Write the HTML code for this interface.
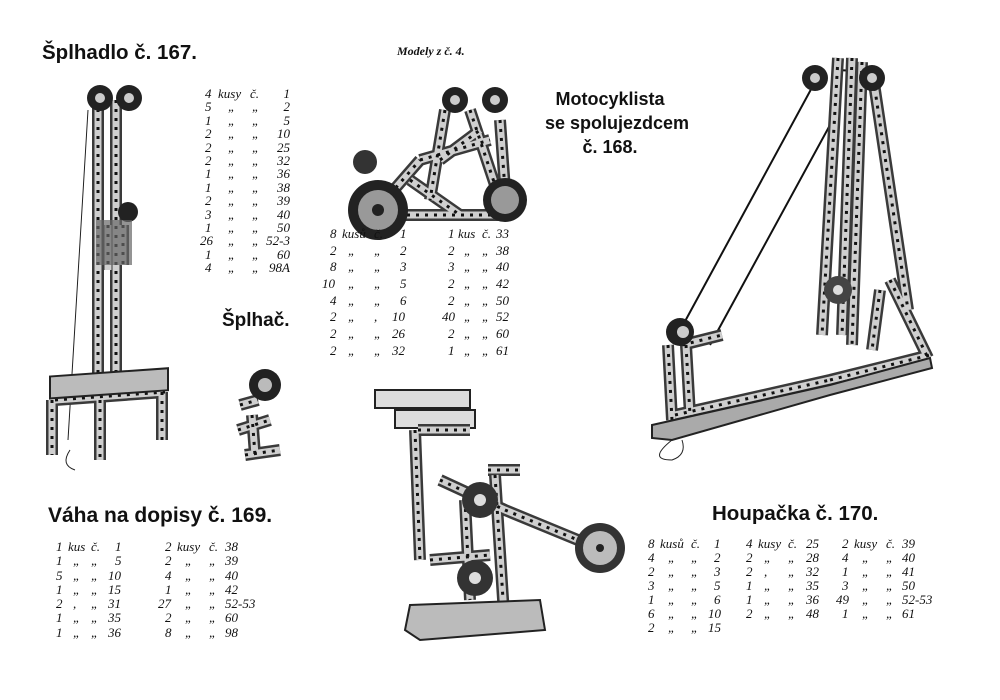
<!DOCTYPE html>
<html><head><meta charset="utf-8"><style>
html,body{margin:0;padding:0;background:#fff;}
#p{position:relative;width:1000px;height:700px;overflow:hidden;background:#fff;}
.t{position:absolute;font-family:"Liberation Sans",sans-serif;font-weight:bold;color:#111;white-space:nowrap;}
.l{position:absolute;font-family:"Liberation Serif",serif;font-style:italic;color:#111;font-size:13px;}
.l div{height:13.4px;line-height:13.4px;white-space:nowrap;position:relative;}
.l span{position:absolute;top:0;}
svg{position:absolute;left:0;top:0;}
.a{fill:none;stroke:#3a3a3a;stroke-width:12;stroke-linecap:butt}
.b{fill:none;stroke:#cfcfcf;stroke-width:7}
.c{fill:none;stroke:#111;stroke-width:3;stroke-dasharray:3 6}
</style></head><body><div id="p">
<svg width="1000" height="700" viewBox="0 0 1000 700">
<defs>
<path id="s1" d="M98 100 L98 380 M116 100 L116 380 M55 400 L165 392 M52 400 L52 455 M100 400 L100 460 M162 392 L162 440 M108 225 L108 270 M123 225 L123 265"/>
<path id="s2" d="M838 58 L822 335 M852 58 L842 335 M862 62 L852 345 M872 70 L908 310 M890 280 L928 358 M880 290 L872 350 M668 345 L672 420 M686 345 L690 415 M682 345 L722 335 M675 415 L830 380 M830 380 L930 355"/>
<path id="s3" d="M372 215 L420 160 M420 160 L490 140 M410 180 L460 215 M380 215 L500 215 M470 110 L500 200 M445 110 L430 200 M500 120 L505 190 M440 160 L480 130"/>
<path id="s4" d="M415 430 L420 560 M418 430 L470 430 M440 480 L505 510 M505 510 L590 545 M430 560 L490 555 M495 475 L505 630 M488 470 L520 470 M465 500 L470 600"/>
<path id="s5" d="M240 405 L258 400 M238 430 L270 420 M245 455 L280 450 M252 415 L255 455"/>
</defs>
<line x1="88" y1="110" x2="68" y2="440" stroke="#222" stroke-width="1"/>
<use href="#s1" class="a"/><use href="#s1" class="b"/><use href="#s1" class="c"/>
<rect x="50" y="380" width="118" height="22" fill="#bbb" stroke="#222" stroke-width="2" transform="skewY(-4)"/>
<circle cx="100" cy="98" r="13" fill="#222"/><circle cx="100" cy="98" r="5" fill="#ccc"/>
<circle cx="129" cy="98" r="13" fill="#222"/><circle cx="129" cy="98" r="5" fill="#ccc"/>
<circle cx="128" cy="212" r="10" fill="#222"/>
<rect x="96" y="220" width="36" height="45" fill="#666" opacity=".7"/>
<path d="M70 450 q-10 15 5 20" stroke="#222" fill="none"/>
<line x1="815" y1="82" x2="683" y2="325" stroke="#111" stroke-width="2"/>
<line x1="830" y1="125" x2="710" y2="345" stroke="#111" stroke-width="2"/>
<line x1="838" y1="70" x2="872" y2="72" stroke="#111" stroke-width="2"/>
<use href="#s2" class="a"/><use href="#s2" class="b"/><use href="#s2" class="c"/>
<polygon points="652,425 830,385 930,358 932,368 830,395 672,440 652,438" fill="#aaa" stroke="#222" stroke-width="2"/>
<circle cx="815" cy="78" r="13" fill="#222"/><circle cx="815" cy="78" r="5" fill="#ccc"/>
<circle cx="872" cy="78" r="13" fill="#222"/><circle cx="872" cy="78" r="5" fill="#ccc"/>
<circle cx="680" cy="332" r="14" fill="#222"/><circle cx="683" cy="332" r="6" fill="#ccc"/>
<circle cx="838" cy="290" r="14" fill="#444"/><circle cx="838" cy="290" r="5" fill="#ddd"/>
<path d="M672 440 q-25 20 0 20 q15 -5 10 -20" stroke="#222" fill="none"/>
<use href="#s3" class="a"/><use href="#s3" class="b"/><use href="#s3" class="c"/>
<circle cx="378" cy="210" r="30" fill="#222"/><circle cx="378" cy="210" r="20" fill="#999"/><circle cx="378" cy="210" r="6" fill="#222"/>
<circle cx="505" cy="200" r="22" fill="#222"/><circle cx="505" cy="200" r="14" fill="#999"/>
<circle cx="455" cy="100" r="13" fill="#222"/><circle cx="455" cy="100" r="5" fill="#ccc"/>
<circle cx="495" cy="100" r="13" fill="#222"/><circle cx="495" cy="100" r="5" fill="#ccc"/>
<circle cx="365" cy="162" r="12" fill="#333"/>
<use href="#s5" class="a"/><use href="#s5" class="b"/><use href="#s5" class="c"/>
<circle cx="265" cy="385" r="16" fill="#222"/><circle cx="265" cy="385" r="7" fill="#bbb"/>
<polygon points="375,390 470,390 470,408 375,408" fill="#ddd" stroke="#222" stroke-width="2"/>
<polygon points="395,410 475,410 475,428 395,428" fill="#ddd" stroke="#222" stroke-width="2"/>
<use href="#s4" class="a"/><use href="#s4" class="b"/><use href="#s4" class="c"/>
<circle cx="480" cy="500" r="18" fill="#333"/><circle cx="480" cy="500" r="6" fill="#ddd"/>
<circle cx="475" cy="578" r="18" fill="#333"/><circle cx="475" cy="578" r="6" fill="#ddd"/>
<circle cx="600" cy="548" r="25" fill="#333"/><circle cx="600" cy="548" r="17" fill="#bbb"/><circle cx="600" cy="548" r="4" fill="#222"/>
<polygon points="410,605 540,600 545,630 420,640 405,630" fill="#bbb" stroke="#222" stroke-width="2"/>
</svg>

<div class="t" style="left:42px;top:41px;font-size:20.5px;">Šplhadlo č. 167.</div>
<div class="l" style="left:397px;top:44px;font-size:12px;font-weight:bold;">Modely z č. 4.</div>
<div class="t" style="left:545px;top:87px;width:130px;text-align:center;font-size:18px;line-height:24px;">Motocyklista<br>se spolujezdcem<br>č. 168.</div>
<div class="t" style="left:222px;top:310px;font-size:19px;">Šplhač.</div>
<div class="t" style="left:48px;top:504px;font-size:21px;">Váha na dopisy č. 169.</div>
<div class="t" style="left:712px;top:502px;font-size:20.5px;">Houpačka č. 170.</div>

<div class="l" style="left:200px;top:87px;width:95px;">
<div><span style="left:5px">4</span><span style="left:18px">kusy</span><span style="left:50px">č.</span><span style="right:5px">1</span></div>
<div><span style="left:5px">5</span><span style="left:28px">„</span><span style="left:52px">„</span><span style="right:5px">2</span></div>
<div><span style="left:5px">1</span><span style="left:28px">„</span><span style="left:52px">„</span><span style="right:5px">5</span></div>
<div><span style="left:5px">2</span><span style="left:28px">„</span><span style="left:52px">„</span><span style="right:5px">10</span></div>
<div><span style="left:5px">2</span><span style="left:28px">„</span><span style="left:52px">„</span><span style="right:5px">25</span></div>
<div><span style="left:5px">2</span><span style="left:28px">„</span><span style="left:52px">„</span><span style="right:5px">32</span></div>
<div><span style="left:5px">1</span><span style="left:28px">„</span><span style="left:52px">„</span><span style="right:5px">36</span></div>
<div><span style="left:5px">1</span><span style="left:28px">„</span><span style="left:52px">„</span><span style="right:5px">38</span></div>
<div><span style="left:5px">2</span><span style="left:28px">„</span><span style="left:52px">„</span><span style="right:5px">39</span></div>
<div><span style="left:5px">3</span><span style="left:28px">„</span><span style="left:52px">„</span><span style="right:5px">40</span></div>
<div><span style="left:5px">1</span><span style="left:28px">„</span><span style="left:52px">„</span><span style="right:5px">50</span></div>
<div><span style="left:0px">26</span><span style="left:28px">„</span><span style="left:52px">„</span><span style="right:5px">52-3</span></div>
<div><span style="left:5px">1</span><span style="left:28px">„</span><span style="left:52px">„</span><span style="right:5px">60</span></div>
<div><span style="left:5px">4</span><span style="left:28px">„</span><span style="left:52px">„</span><span style="right:5px">98A</span></div>
</div>

<div class="l" style="left:322px;top:227px;width:200px;">
<div style="height:16.7px"><span style="left:8px">8</span><span style="left:20px">kusů</span><span style="left:52px">č.</span><span style="left:78px">1</span><span style="left:126px">1</span><span style="left:136px">kus</span><span style="left:160px">č.</span><span style="left:174px">33</span></div>
<div style="height:16.7px"><span style="left:8px">2</span><span style="left:26px">„</span><span style="left:52px">„</span><span style="left:78px">2</span><span style="left:126px">2</span><span style="left:142px">„</span><span style="left:160px">„</span><span style="left:174px">38</span></div>
<div style="height:16.7px"><span style="left:8px">8</span><span style="left:26px">„</span><span style="left:52px">„</span><span style="left:78px">3</span><span style="left:126px">3</span><span style="left:142px">„</span><span style="left:160px">„</span><span style="left:174px">40</span></div>
<div style="height:16.7px"><span style="left:0px">10</span><span style="left:26px">„</span><span style="left:52px">„</span><span style="left:78px">5</span><span style="left:126px">2</span><span style="left:142px">„</span><span style="left:160px">„</span><span style="left:174px">42</span></div>
<div style="height:16.7px"><span style="left:8px">4</span><span style="left:26px">„</span><span style="left:52px">„</span><span style="left:78px">6</span><span style="left:126px">2</span><span style="left:142px">„</span><span style="left:160px">„</span><span style="left:174px">50</span></div>
<div style="height:16.7px"><span style="left:8px">2</span><span style="left:26px">„</span><span style="left:52px">,</span><span style="left:70px">10</span><span style="left:120px">40</span><span style="left:142px">„</span><span style="left:160px">„</span><span style="left:174px">52</span></div>
<div style="height:16.7px"><span style="left:8px">2</span><span style="left:26px">„</span><span style="left:52px">„</span><span style="left:70px">26</span><span style="left:126px">2</span><span style="left:142px">„</span><span style="left:160px">„</span><span style="left:174px">60</span></div>
<div style="height:16.7px"><span style="left:8px">2</span><span style="left:26px">„</span><span style="left:52px">„</span><span style="left:70px">32</span><span style="left:126px">1</span><span style="left:142px">„</span><span style="left:160px">„</span><span style="left:174px">61</span></div>
</div>

<div class="l" style="left:53px;top:540px;width:210px;">
<div style="height:14.3px"><span style="left:3px">1</span><span style="left:15px">kus</span><span style="left:38px">č.</span><span style="left:62px">1</span><span style="left:112px">2</span><span style="left:124px">kusy</span><span style="left:156px">č.</span><span style="left:172px">38</span></div>
<div style="height:14.3px"><span style="left:3px">1</span><span style="left:20px">„</span><span style="left:38px">„</span><span style="left:62px">5</span><span style="left:112px">2</span><span style="left:132px">„</span><span style="left:156px">„</span><span style="left:172px">39</span></div>
<div style="height:14.3px"><span style="left:3px">5</span><span style="left:20px">„</span><span style="left:38px">„</span><span style="left:55px">10</span><span style="left:112px">4</span><span style="left:132px">„</span><span style="left:156px">„</span><span style="left:172px">40</span></div>
<div style="height:14.3px"><span style="left:3px">1</span><span style="left:20px">„</span><span style="left:38px">„</span><span style="left:55px">15</span><span style="left:112px">1</span><span style="left:132px">„</span><span style="left:156px">„</span><span style="left:172px">42</span></div>
<div style="height:14.3px"><span style="left:3px">2</span><span style="left:20px">,</span><span style="left:38px">„</span><span style="left:55px">31</span><span style="left:105px">27</span><span style="left:132px">„</span><span style="left:156px">„</span><span style="left:172px">52-53</span></div>
<div style="height:14.3px"><span style="left:3px">1</span><span style="left:20px">„</span><span style="left:38px">„</span><span style="left:55px">35</span><span style="left:112px">2</span><span style="left:132px">„</span><span style="left:156px">„</span><span style="left:172px">60</span></div>
<div style="height:14.3px"><span style="left:3px">1</span><span style="left:20px">„</span><span style="left:38px">„</span><span style="left:55px">36</span><span style="left:112px">8</span><span style="left:132px">„</span><span style="left:156px">„</span><span style="left:172px">98</span></div>
</div>

<div class="l" style="left:646px;top:537px;width:290px;">
<div style="height:14px"><span style="left:2px">8</span><span style="left:14px">kusů</span><span style="left:45px">č.</span><span style="left:68px">1</span><span style="left:100px">4</span><span style="left:112px">kusy</span><span style="left:142px">č.</span><span style="left:160px">25</span><span style="left:196px">2</span><span style="left:208px">kusy</span><span style="left:240px">č.</span><span style="left:256px">39</span></div>
<div style="height:14px"><span style="left:2px">4</span><span style="left:22px">„</span><span style="left:45px">„</span><span style="left:68px">2</span><span style="left:100px">2</span><span style="left:118px">„</span><span style="left:142px">„</span><span style="left:160px">28</span><span style="left:196px">4</span><span style="left:216px">„</span><span style="left:240px">„</span><span style="left:256px">40</span></div>
<div style="height:14px"><span style="left:2px">2</span><span style="left:22px">„</span><span style="left:45px">„</span><span style="left:68px">3</span><span style="left:100px">2</span><span style="left:118px">,</span><span style="left:142px">„</span><span style="left:160px">32</span><span style="left:196px">1</span><span style="left:216px">„</span><span style="left:240px">„</span><span style="left:256px">41</span></div>
<div style="height:14px"><span style="left:2px">3</span><span style="left:22px">„</span><span style="left:45px">„</span><span style="left:68px">5</span><span style="left:100px">1</span><span style="left:118px">„</span><span style="left:142px">„</span><span style="left:160px">35</span><span style="left:196px">3</span><span style="left:216px">„</span><span style="left:240px">„</span><span style="left:256px">50</span></div>
<div style="height:14px"><span style="left:2px">1</span><span style="left:22px">„</span><span style="left:45px">„</span><span style="left:68px">6</span><span style="left:100px">1</span><span style="left:118px">„</span><span style="left:142px">„</span><span style="left:160px">36</span><span style="left:190px">49</span><span style="left:216px">„</span><span style="left:240px">„</span><span style="left:256px">52-53</span></div>
<div style="height:14px"><span style="left:2px">6</span><span style="left:22px">„</span><span style="left:45px">„</span><span style="left:62px">10</span><span style="left:100px">2</span><span style="left:118px">„</span><span style="left:142px">„</span><span style="left:160px">48</span><span style="left:196px">1</span><span style="left:216px">„</span><span style="left:240px">„</span><span style="left:256px">61</span></div>
<div style="height:14px"><span style="left:2px">2</span><span style="left:22px">„</span><span style="left:45px">„</span><span style="left:62px">15</span></div>
</div>
</div></body></html>
